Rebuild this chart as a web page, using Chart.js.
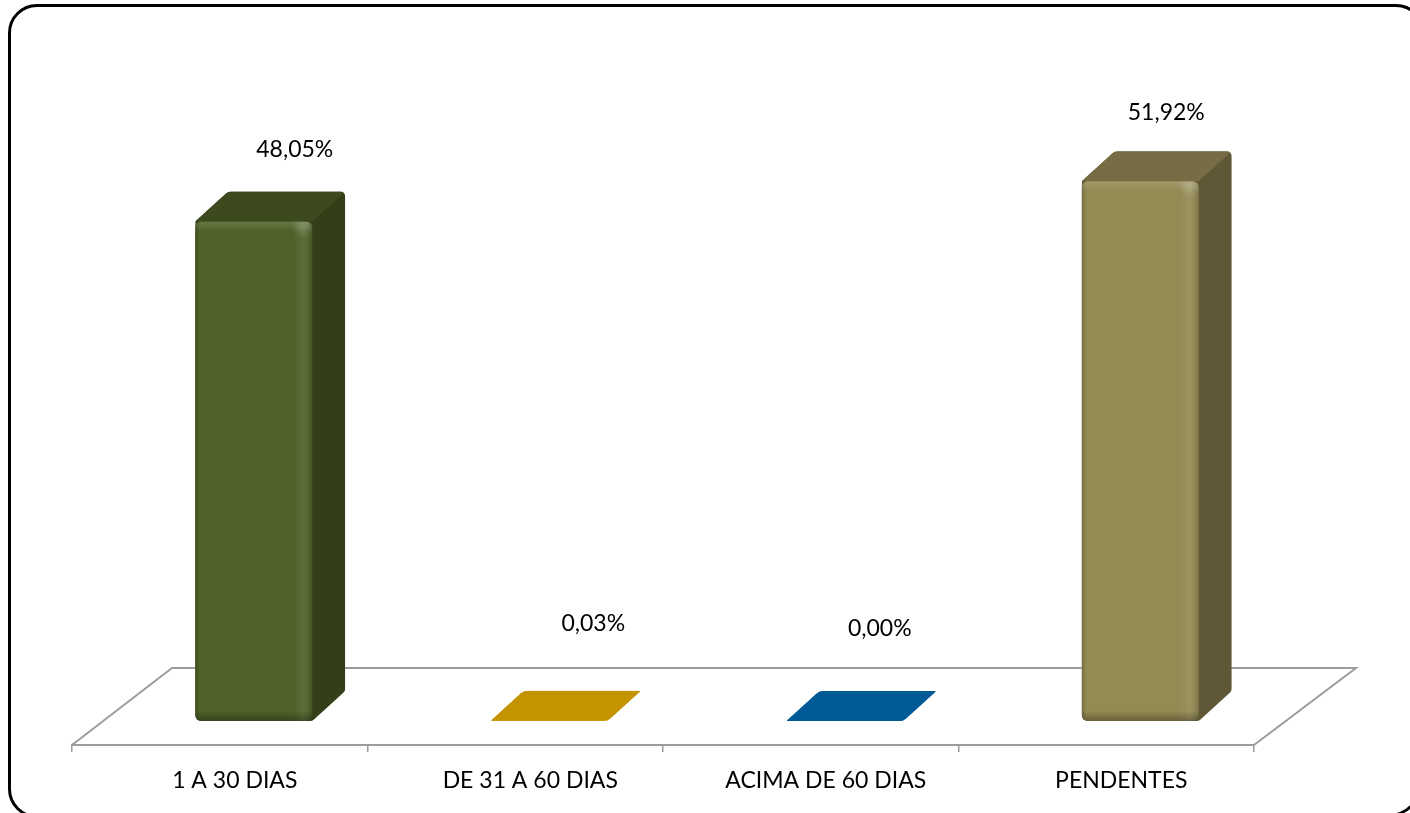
<!DOCTYPE html>
<html>
<head>
<meta charset="utf-8">
<style>
    html, body { margin: 0; padding: 0; width: 1410px; height: 813px; background: #fff; overflow: hidden; }
    #frame { position: absolute; left: 8px; top: 4px; width: 1411px; height: 808px; border: 3px solid #000; border-radius: 29px 29px 40px 29px; }
    canvas { position: absolute; left: 0; top: 0; }
</style>
<script src="https://cdn.jsdelivr.net/npm/chart.js@4"></script>
</head>
<body>
<div id="frame"></div>
<canvas id="chart" width="1410" height="813"></canvas>
<script>
// === Data ===
const categories = ['1 A 30 DIAS', 'DE 31 A 60 DIAS', 'ACIMA DE 60 DIAS', 'PENDENTES'];
const percentValues = [48.05, 0.03, 0.00, 51.92];

// === Colours per bar ===
const frontColors = ['#4f6228', '#c49300', '#005a96', '#948a54'];
const topColors = ['#3d4a1e', '#c49300', '#005a96', '#766d44'];
const sideColors = ['#323f18', '#c49300', '#005a96', '#5f5736'];

// Hand-moved data labels, relative to the back top corner of each bar
const labelShift = [[41, -42], [44, -67], [35, -63], [26, -39]];

const FONT = 'Lato, "Open Sans", sans-serif';
const GREY = '#9c9c9c';
const DEPTH_X = 33;
const DEPTH_Y = 30;
const SHIFT_X = 34; // bars stand on the middle of the floor, not on the ticks

// pts = [x, y, cornerRadius]
function roundedPath(ctx, pts) {
    const n = pts.length;
    ctx.beginPath();
    ctx.moveTo((pts[n - 1][0] + pts[0][0]) / 2, (pts[n - 1][1] + pts[0][1]) / 2);
    pts.forEach((p, i) => {
        const next = pts[(i + 1) % n];
        ctx.arcTo(p[0], p[1], next[0], next[1], p[2]);
    });
    ctx.closePath();
}

const floorPlugin = {
    id: 'floor',
    beforeDatasetsDraw(chart) {
        const { ctx, chartArea } = chart;
        ctx.save();
        ctx.strokeStyle = GREY;
        ctx.lineWidth = 2;
        ctx.beginPath();
        ctx.moveTo(chartArea.left, chartArea.bottom);
        ctx.lineTo(chartArea.left + 100, chartArea.bottom - 77);
        ctx.lineTo(chartArea.right + 102, chartArea.bottom - 77);
        ctx.lineTo(chartArea.right, chartArea.bottom);
        ctx.stroke();
        ctx.restore();
    }
};

const boxPlugin = {
    id: 'box',
    beforeDatasetsDraw(chart) {
        const { ctx } = chart;
        ctx.save();
        chart.getDatasetMeta(0).data.forEach((bar, i) => {
            const left = bar.x - bar.width / 2 + SHIFT_X;
            const right = left + bar.width;
            const flat = bar.base - bar.y < 20;
            const backY = bar.y - DEPTH_Y;
            ctx.save();
            if (flat) {
                roundedPath(ctx, [[left, bar.y, 0.5], [left + DEPTH_X, backY, 10], [right + DEPTH_X, backY, 0.5], [right, bar.y, 10]]);
            } else {
                roundedPath(ctx, [[left, bar.y, 3], [left + DEPTH_X, backY, 8], [right + DEPTH_X, backY, 5],
                    [right + DEPTH_X, bar.base - DEPTH_Y, 6], [right, bar.base, 6], [left, bar.base, 6]]);
            }
            ctx.clip();
            ctx.fillStyle = sideColors[i];
            ctx.fillRect(left, backY, bar.width + DEPTH_X, bar.base - backY);
            ctx.fillStyle = topColors[i];
            ctx.beginPath();
            ctx.moveTo(left, bar.y);
            ctx.lineTo(left + DEPTH_X, backY);
            ctx.lineTo(right + DEPTH_X, backY);
            ctx.lineTo(right, bar.y);
            ctx.closePath();
            ctx.fill();
            ctx.restore();
        });
        ctx.restore();
        // native bars get drawn shifted onto the floor
        ctx.save();
        ctx.translate(SHIFT_X, 0);
    },
    afterDatasetsDraw(chart) {
        const { ctx } = chart;
        ctx.restore();
        ctx.save();
        chart.getDatasetMeta(0).data.forEach((bar) => {
            const h = bar.base - bar.y;
            if (h < 20) return;
            const left = bar.x - bar.width / 2 + SHIFT_X;
            const right = left + bar.width;
            ctx.save();
            ctx.beginPath();
            ctx.roundRect(left, bar.y, bar.width, h, 6);
            ctx.clip();
            const gx = ctx.createLinearGradient(left, 0, right, 0);
            gx.addColorStop(0, 'rgba(0,0,0,0.2)');
            gx.addColorStop(0.04, 'rgba(0,0,0,0)');
            gx.addColorStop(0.84, 'rgba(255,255,255,0)');
            gx.addColorStop(0.92, 'rgba(255,255,255,0.07)');
            gx.addColorStop(1, 'rgba(0,0,0,0.14)');
            ctx.fillStyle = gx;
            ctx.fillRect(left, bar.y, bar.width, h);
            const gy = ctx.createLinearGradient(0, bar.y, 0, bar.base);
            const t = 10 / h;
            gy.addColorStop(0, 'rgba(255,255,255,0.14)');
            gy.addColorStop(t, 'rgba(255,255,255,0)');
            gy.addColorStop(1 - t, 'rgba(0,0,0,0)');
            gy.addColorStop(1, 'rgba(0,0,0,0.3)');
            ctx.fillStyle = gy;
            ctx.fillRect(left, bar.y, bar.width, h);
            // small glow on the top right corner of the front face
            const glow = ctx.createRadialGradient(right - 9, bar.y + 5, 0, right - 9, bar.y + 5, 12);
            glow.addColorStop(0, 'rgba(255,255,255,0.18)');
            glow.addColorStop(1, 'rgba(255,255,255,0)');
            ctx.fillStyle = glow;
            ctx.fillRect(right - 22, bar.y, 22, 18);
            ctx.restore();
        });
        ctx.restore();
    },
    afterDraw(chart) {
        const { ctx } = chart;
        ctx.save();
        ctx.fillStyle = '#000';
        ctx.font = '23px ' + FONT;
        ctx.textAlign = 'center';
        ctx.textBaseline = 'middle';
        chart.getDatasetMeta(0).data.forEach((bar, i) => {
            const text = percentValues[i].toFixed(2).replace('.', ',') + '%';
            const backY = bar.y - DEPTH_Y;
            ctx.fillText(text, bar.x + SHIFT_X + labelShift[i][0], backY + labelShift[i][1]);
        });
        ctx.restore();
    }
};

new Chart(document.getElementById('chart'), {
    type: 'bar',
    data: {
        labels: categories,
        datasets: [{
            data: percentValues,
            backgroundColor: frontColors,
            borderWidth: 0,
            borderRadius: 6,
            borderSkipped: false,
            categoryPercentage: 1,
            barPercentage: 0.396
        }]
    },
    options: {
        responsive: false,
        animation: false,
        devicePixelRatio: 1,
        layout: { padding: { left: 72, right: 156, top: 118, bottom: 0 } },
        plugins: { legend: { display: false }, title: { display: false }, tooltip: { enabled: false } },
        scales: {
            x: {
                afterFit: (scale) => { scale.height = 68; },
                border: { color: GREY, width: 2 },
                grid: { drawOnChartArea: false, color: GREY, tickLength: 7, lineWidth: 1.5 },
                ticks: {
                    color: '#000',
                    font: { family: FONT, size: 23 },
                    padding: 15,
                    labelOffset: 15,
                    autoSkip: false,
                    maxRotation: 0
                }
            },
            y: { display: false, min: -2.3, max: 58 }
        }
    },
    plugins: [floorPlugin, boxPlugin]
});
</script>
</body>
</html>
